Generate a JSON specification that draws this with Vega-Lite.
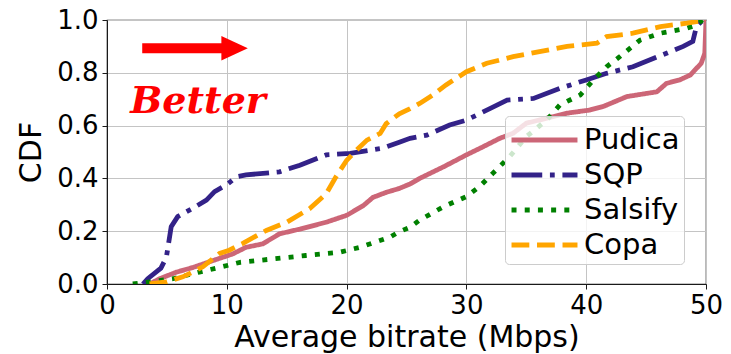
{
  "$schema": "https://vega.github.io/schema/vega-lite/v6.json",
  "width": 599,
  "height": 264,
  "autosize": {"type": "none"},
  "padding": {"left": 107, "top": 20, "right": 25, "bottom": 70},
  "background": "white",
  "config": {
    "font": "DejaVu Sans",
    "view": {"stroke": "#1a1a1a", "strokeWidth": 1.2},
    "axis": {
      "labelFont": "DejaVu Sans",
      "titleFont": "DejaVu Sans",
      "labelFontSize": 26,
      "titleFontSize": 30,
      "titleFontWeight": "normal",
      "labelColor": "black",
      "titleColor": "black",
      "tickColor": "#1a1a1a",
      "domainColor": "#1a1a1a",
      "tickSize": 5,
      "gridColor": "#c4c4c4",
      "gridWidth": 1,
      "gridOpacity": 1
    },
    "legend": {
      "title": null,
      "symbolType": "stroke",
      "symbolSize": 4350,
      "symbolStrokeWidth": 4.8,
      "labelFontSize": 29,
      "labelFont": "DejaVu Sans",
      "labelColor": "black",
      "labelOffset": 4,
      "rowPadding": -0.5,
      "padding": 4,
      "fillColor": "rgba(255,255,255,0.8)",
      "strokeColor": "#cccccc",
      "cornerRadius": 4
    }
  },
  "datasets": {
    "cdf": [
      {"series": "Pudica", "x": 3.55, "y": 0},
      {"series": "Pudica", "x": 4.4, "y": 0.02},
      {"series": "Pudica", "x": 5.8, "y": 0.045},
      {"series": "Pudica", "x": 7.2, "y": 0.063},
      {"series": "Pudica", "x": 8.8, "y": 0.088},
      {"series": "Pudica", "x": 10.5, "y": 0.114},
      {"series": "Pudica", "x": 11.6, "y": 0.139},
      {"series": "Pudica", "x": 13.0, "y": 0.152},
      {"series": "Pudica", "x": 14.4, "y": 0.19},
      {"series": "Pudica", "x": 16.1, "y": 0.208},
      {"series": "Pudica", "x": 18.3, "y": 0.234},
      {"series": "Pudica", "x": 20.0, "y": 0.26},
      {"series": "Pudica", "x": 21.4, "y": 0.297},
      {"series": "Pudica", "x": 22.2, "y": 0.328},
      {"series": "Pudica", "x": 23.3, "y": 0.347},
      {"series": "Pudica", "x": 24.4, "y": 0.362},
      {"series": "Pudica", "x": 25.3, "y": 0.379},
      {"series": "Pudica", "x": 26.1, "y": 0.4},
      {"series": "Pudica", "x": 28.1, "y": 0.444},
      {"series": "Pudica", "x": 30.0, "y": 0.489},
      {"series": "Pudica", "x": 31.4, "y": 0.52},
      {"series": "Pudica", "x": 32.8, "y": 0.552},
      {"series": "Pudica", "x": 33.9, "y": 0.571},
      {"series": "Pudica", "x": 35.0, "y": 0.609},
      {"series": "Pudica", "x": 36.7, "y": 0.628},
      {"series": "Pudica", "x": 38.4, "y": 0.647},
      {"series": "Pudica", "x": 40.3, "y": 0.659},
      {"series": "Pudica", "x": 41.4, "y": 0.672},
      {"series": "Pudica", "x": 43.4, "y": 0.71},
      {"series": "Pudica", "x": 45.9, "y": 0.728},
      {"series": "Pudica", "x": 46.7, "y": 0.76},
      {"series": "Pudica", "x": 47.8, "y": 0.773},
      {"series": "Pudica", "x": 48.7, "y": 0.792},
      {"series": "Pudica", "x": 49.6, "y": 0.836},
      {"series": "Pudica", "x": 49.9, "y": 0.874},
      {"series": "Pudica", "x": 50, "y": 1.0},
      {"series": "SQP", "x": 3.0, "y": 0},
      {"series": "SQP", "x": 3.4, "y": 0.02},
      {"series": "SQP", "x": 4.5, "y": 0.06},
      {"series": "SQP", "x": 4.95, "y": 0.1},
      {"series": "SQP", "x": 5.36, "y": 0.217},
      {"series": "SQP", "x": 5.9, "y": 0.255},
      {"series": "SQP", "x": 7.17, "y": 0.287},
      {"series": "SQP", "x": 8.3, "y": 0.318},
      {"series": "SQP", "x": 8.98, "y": 0.35},
      {"series": "SQP", "x": 9.96, "y": 0.375},
      {"series": "SQP", "x": 10.8, "y": 0.406},
      {"series": "SQP", "x": 11.6, "y": 0.413},
      {"series": "SQP", "x": 14.4, "y": 0.425},
      {"series": "SQP", "x": 16.1, "y": 0.45},
      {"series": "SQP", "x": 18.3, "y": 0.489},
      {"series": "SQP", "x": 20.3, "y": 0.495},
      {"series": "SQP", "x": 23.0, "y": 0.514},
      {"series": "SQP", "x": 24.4, "y": 0.537},
      {"series": "SQP", "x": 25.3, "y": 0.552},
      {"series": "SQP", "x": 26.7, "y": 0.564},
      {"series": "SQP", "x": 28.6, "y": 0.602},
      {"series": "SQP", "x": 30.0, "y": 0.621},
      {"series": "SQP", "x": 32.0, "y": 0.665},
      {"series": "SQP", "x": 33.4, "y": 0.697},
      {"series": "SQP", "x": 35.6, "y": 0.703},
      {"series": "SQP", "x": 37.8, "y": 0.741},
      {"series": "SQP", "x": 40.0, "y": 0.773},
      {"series": "SQP", "x": 41.7, "y": 0.798},
      {"series": "SQP", "x": 43.9, "y": 0.823},
      {"series": "SQP", "x": 46.7, "y": 0.874},
      {"series": "SQP", "x": 48.1, "y": 0.9},
      {"series": "SQP", "x": 48.9, "y": 0.919},
      {"series": "SQP", "x": 49.2, "y": 0.975},
      {"series": "SQP", "x": 49.6, "y": 0.994},
      {"series": "SQP", "x": 50, "y": 1.0},
      {"series": "Salsify", "x": 2.15, "y": 0},
      {"series": "Salsify", "x": 3.55, "y": 0.008},
      {"series": "Salsify", "x": 5.5, "y": 0.02},
      {"series": "Salsify", "x": 7.7, "y": 0.045},
      {"series": "Salsify", "x": 9.4, "y": 0.063},
      {"series": "Salsify", "x": 11.1, "y": 0.082},
      {"series": "Salsify", "x": 13.85, "y": 0.095},
      {"series": "Salsify", "x": 16.6, "y": 0.108},
      {"series": "Salsify", "x": 19.4, "y": 0.12},
      {"series": "Salsify", "x": 21.1, "y": 0.139},
      {"series": "Salsify", "x": 23.6, "y": 0.177},
      {"series": "Salsify", "x": 24.4, "y": 0.198},
      {"series": "Salsify", "x": 25.3, "y": 0.215},
      {"series": "Salsify", "x": 26.1, "y": 0.242},
      {"series": "Salsify", "x": 28.1, "y": 0.293},
      {"series": "Salsify", "x": 30.0, "y": 0.331},
      {"series": "Salsify", "x": 31.1, "y": 0.369},
      {"series": "Salsify", "x": 32.2, "y": 0.419},
      {"series": "Salsify", "x": 33.6, "y": 0.482},
      {"series": "Salsify", "x": 35.0, "y": 0.558},
      {"series": "Salsify", "x": 36.7, "y": 0.621},
      {"series": "Salsify", "x": 37.8, "y": 0.678},
      {"series": "Salsify", "x": 39.5, "y": 0.716},
      {"series": "Salsify", "x": 40.6, "y": 0.773},
      {"series": "Salsify", "x": 41.7, "y": 0.823},
      {"series": "Salsify", "x": 42.8, "y": 0.861},
      {"series": "Salsify", "x": 44.5, "y": 0.924},
      {"series": "Salsify", "x": 46.2, "y": 0.95},
      {"series": "Salsify", "x": 48.4, "y": 0.969},
      {"series": "Salsify", "x": 49.2, "y": 0.981},
      {"series": "Salsify", "x": 49.7, "y": 1.0},
      {"series": "Copa", "x": 3.55, "y": 0},
      {"series": "Copa", "x": 4.95, "y": 0.008},
      {"series": "Copa", "x": 6.33, "y": 0.027},
      {"series": "Copa", "x": 8.0, "y": 0.065},
      {"series": "Copa", "x": 9.4, "y": 0.116},
      {"series": "Copa", "x": 10.2, "y": 0.128},
      {"series": "Copa", "x": 11.3, "y": 0.153},
      {"series": "Copa", "x": 13.3, "y": 0.203},
      {"series": "Copa", "x": 15.0, "y": 0.234},
      {"series": "Copa", "x": 16.9, "y": 0.285},
      {"series": "Copa", "x": 18.3, "y": 0.342},
      {"series": "Copa", "x": 19.1, "y": 0.405},
      {"series": "Copa", "x": 20.0, "y": 0.468},
      {"series": "Copa", "x": 20.8, "y": 0.506},
      {"series": "Copa", "x": 21.7, "y": 0.545},
      {"series": "Copa", "x": 22.8, "y": 0.57},
      {"series": "Copa", "x": 23.3, "y": 0.607},
      {"series": "Copa", "x": 24.4, "y": 0.645},
      {"series": "Copa", "x": 25.3, "y": 0.664},
      {"series": "Copa", "x": 26.1, "y": 0.684},
      {"series": "Copa", "x": 27.2, "y": 0.716},
      {"series": "Copa", "x": 28.3, "y": 0.754},
      {"series": "Copa", "x": 30.0, "y": 0.804},
      {"series": "Copa", "x": 31.7, "y": 0.836},
      {"series": "Copa", "x": 33.9, "y": 0.861},
      {"series": "Copa", "x": 36.1, "y": 0.88},
      {"series": "Copa", "x": 38.4, "y": 0.9},
      {"series": "Copa", "x": 40.9, "y": 0.912},
      {"series": "Copa", "x": 41.7, "y": 0.937},
      {"series": "Copa", "x": 43.9, "y": 0.95},
      {"series": "Copa", "x": 46.2, "y": 0.975},
      {"series": "Copa", "x": 48.4, "y": 0.988},
      {"series": "Copa", "x": 49.8, "y": 0.998},
      {"series": "Copa", "x": 50, "y": 1.0}
    ],
    "arrow": [{"x1": 2.94, "x2": 9.7, "xh": 10.65, "y": 0.893, "label": "Better", "tx": 7.6, "ty": 0.648}]
  },
  "layer": [
    {
      "data": {"name": "cdf"},
      "mark": {"type": "line", "strokeWidth": 4.8, "strokeCap": "butt", "clip": true},
      "encoding": {
        "x": {
          "field": "x", "type": "quantitative",
          "scale": {"domain": [0, 50], "nice": false, "zero": false},
          "axis": {"values": [0, 10, 20, 30, 40, 50], "title": "Average bitrate (Mbps)", "grid": true, "labelPadding": 3, "titleBaseline": "alphabetic", "titleY": 62, "labelFlush": false}
        },
        "y": {
          "field": "y", "type": "quantitative",
          "scale": {"domain": [0, 1], "nice": false},
          "axis": {"values": [0, 0.2, 0.4, 0.6, 0.8, 1.0], "format": ".1f", "title": "CDF", "grid": true, "labelPadding": 4, "titlePadding": 10, "labelFlush": false}
        },
        "order": {"field": "y", "type": "quantitative"},
        "color": {
          "field": "series", "type": "nominal",
          "scale": {"domain": ["Pudica", "SQP", "Salsify", "Copa"], "range": ["#cc6677", "#332288", "#008000", "#ffa500"]},
          "legend": {
            "orient": "none",
            "legendX": 398,
            "legendY": 96,
            "encode": {
              "symbols": {"update": {"y": {"value": 20}}},
              "labels": {"update": {"y": {"value": 20}}}
            }
          }
        },
        "strokeDash": {
          "field": "series", "type": "nominal",
          "scale": {"domain": ["Pudica", "SQP", "Salsify", "Copa"], "range": [[1, 0], [30.7, 7.7, 4.8, 7.7], [5, 8.2], [17.8, 7.7]]},
          "legend": {
            "orient": "none",
            "legendX": 398,
            "legendY": 96,
            "encode": {
              "symbols": {"update": {"y": {"value": 20}}},
              "labels": {"update": {"y": {"value": 20}}}
            }
          }
        }
      }
    },
    {
      "data": {"name": "arrow"},
      "mark": {"type": "rule", "color": "#ff0000", "strokeWidth": 10, "strokeCap": "butt"},
      "encoding": {
        "x": {"field": "x1", "type": "quantitative"},
        "x2": {"field": "x2"},
        "y": {"field": "y", "type": "quantitative"}
      }
    },
    {
      "data": {"name": "arrow"},
      "mark": {"type": "point", "shape": "M -1 -0.93 L 1 0 L -1 0.93 Z", "size": 700, "filled": true, "color": "#ff0000", "opacity": 1, "strokeWidth": 0},
      "encoding": {
        "x": {"field": "xh", "type": "quantitative"},
        "y": {"field": "y", "type": "quantitative"}
      }
    },
    {
      "data": {"name": "arrow"},
      "mark": {"type": "text", "font": "DejaVu Serif", "fontStyle": "italic", "fontWeight": "bold", "fontSize": 38, "color": "#ff0000", "align": "center", "baseline": "alphabetic"},
      "encoding": {
        "x": {"field": "tx", "type": "quantitative"},
        "y": {"field": "ty", "type": "quantitative"},
        "text": {"field": "label"}
      }
    }
  ]
}
